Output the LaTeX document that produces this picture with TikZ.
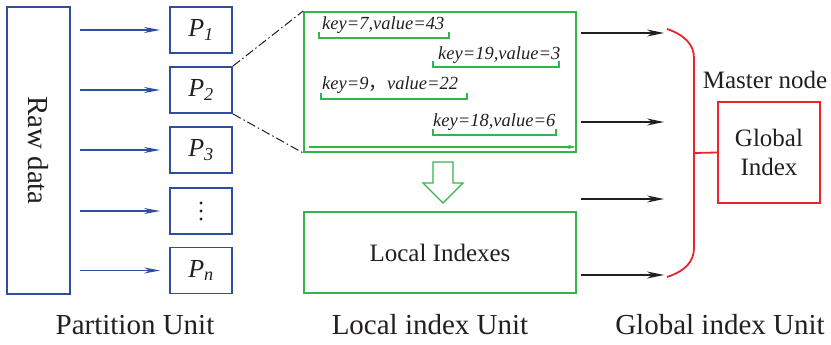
\documentclass[tikz,border=0pt]{standalone}
\usepackage{fontspec}
\setmainfont{Liberation Serif}
\newfontfamily\cjkfont{Noto Sans CJK SC}
\usetikzlibrary{arrows.meta,calc}
\definecolor{pblue}{RGB}{48,78,160}
\definecolor{pgreen}{RGB}{52,181,74}
\definecolor{pred}{RGB}{232,37,45}
\definecolor{ptext}{RGB}{35,31,32}
\tikzset{
  bbox/.style={draw=pblue,line width=1.8pt,minimum width=62pt,minimum height=46pt,inner sep=0pt,text=ptext,font=\fontsize{26}{30}\selectfont\itshape},
  gbox/.style={draw=pgreen,line width=1.8pt,minimum width=272pt,inner sep=0pt,text=ptext},
  barrow/.style={draw=pblue,line width=1.4pt,-{Stealth[length=16pt,width=6pt]}},
  karrow/.style={draw=ptext,line width=1.4pt,-{Stealth[length=17pt,width=7pt]}},
  kv/.style={anchor=base west,inner sep=0pt,text=ptext,font=\fontsize{18.5}{22}\selectfont\itshape},
  brk/.style={draw=pgreen,line width=1.2pt},
  lab/.style={text=ptext,font=\fontsize{29}{32}\selectfont,inner sep=0pt},
}
\begin{document}
\begin{tikzpicture}[x=1pt,y=-1pt]
\useasboundingbox (0,0) rectangle (831,345);
% Partition unit
\node[draw=pblue,line width=1.8pt,minimum width=63pt,minimum height=287pt,inner sep=0pt] (raw) at (38.5,150.5) {};
\node[rotate=-90,text=ptext,font=\fontsize{29}{32}\selectfont] (rawt) at (raw.center) {Raw data};
\node[bbox] (p1) at (201,30) {P\textsubscript{1}};
\node[bbox] (p2) at (201,90) {P\textsubscript{2}};
\node[bbox] (p3) at (201,150) {P\textsubscript{3}};
\node[bbox] (pd) at (201,211) {};
\node[bbox] (pn) at (201,270.5) {P\textsubscript{n}};
\fill[ptext] (pd.center) circle (1.6pt) ++(0,-8) circle (1.6pt) ++(0,16) circle (1.6pt);
\foreach \p in {p1,p2,p3,pd,pn}{
  \draw[barrow,shorten <=9pt,shorten >=9pt] (raw.east |- \p.west) -- (\p.west);
}
% Local index unit
\node[gbox,minimum height=140pt] (lbox) at (440,82) {};
\node[gbox,minimum height=81pt,font=\fontsize{25}{30}\selectfont] (loc) at (440,252.5) {Local Indexes};
\draw[ptext,line width=1pt,dash pattern=on 9pt off 3pt on 1.5pt off 3pt] (p2.north east) -- (lbox.north west);
\draw[ptext,line width=1pt,dash pattern=on 9pt off 3pt on 1.5pt off 3pt] (p2.south east) -- (lbox.south west);
\node[kv] (k1) at (322,30) {key=7,value=43};
\node[kv] (k2) at (438,60) {key=19,value=3};
\node[kv] (k3) at (322,89) {key=9{\cjkfont\upshape ，}value=22};
\node[kv] (k4) at (433,126) {key=18,value=6};
\draw[brk] (319,32) -- (319,38) -- (449,38) -- (449,32);
\draw[brk] (433,61) -- (433,67) -- (559,67) -- (559,61);
\draw[brk] (321,93) -- (321,99) -- (467,99) -- (467,93);
\draw[brk] (433,129) -- (433,135) -- (556,135) -- (556,129);
\draw[draw=pgreen,line width=1.2pt,-{Stealth[length=8pt,width=4pt]}] ([shift={(6,-6)}]lbox.south west) -- ([shift={(-1,-6)}]lbox.south east);
\draw[draw=pgreen,line width=1.4pt,fill=white] (433,162) -- (453,162) -- (453,183) -- (463,183) -- (443,203) -- (423,183) -- (433,183) -- cycle;
% Global index unit
\coordinate (b1) at (664,33);
\coordinate (b2) at (664,122);
\coordinate (b3) at (664,199);
\coordinate (b4) at (664,275);
\foreach \b in {b1,b2,b3,b4}{
  \draw[karrow,shorten <=4pt] (lbox.east |- \b) -- (\b);
}
\node[draw=pred,line width=1.8pt,minimum width=102pt,minimum height=101pt,inner sep=0pt,align=center,text=ptext,font=\fontsize{25}{29}\selectfont] (gi) at (769,152.5) {Global\\Index};
\draw[pred,line width=1.8pt] (667,29) .. controls (685,35) and (694,45) .. (694,58) -- (694,248) .. controls (694,262) and (685,271) .. (667,277);
\coordinate (bm) at (694,153);
\draw[pred,line width=1.8pt] (bm) -- (gi.west);
\node[lab,font=\fontsize{25}{30}\selectfont] (mn) at (765,80) {Master node};
% unit labels
\node[lab] (l1) at (135,325) {Partition Unit};
\node[lab] (l2) at (430,325) {Local index Unit};
\node[lab] (l3) at (720,325) {Global index Unit};
\end{tikzpicture}
\end{document}
